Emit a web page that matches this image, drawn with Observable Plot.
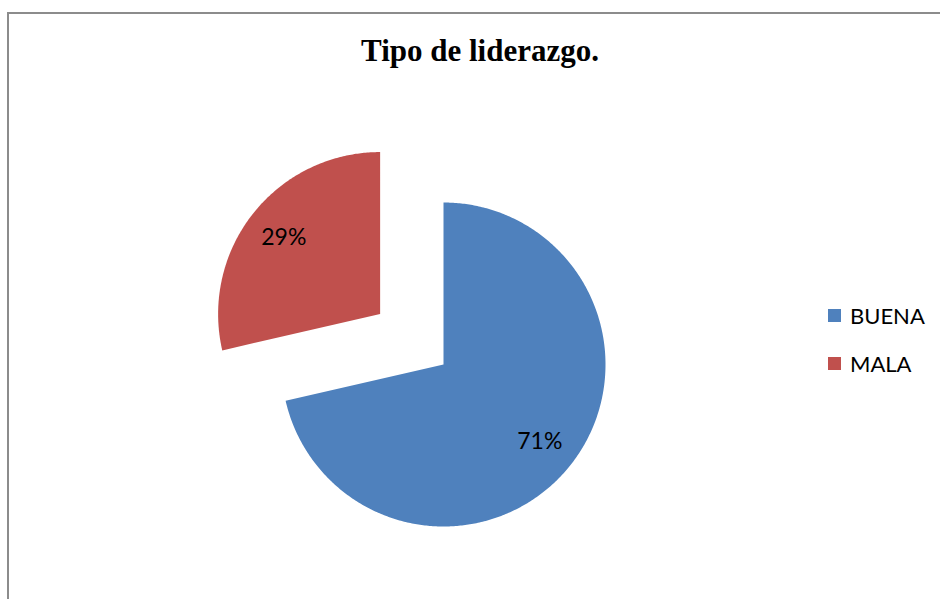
<!DOCTYPE html>
<html><head><meta charset="utf-8">
<script src="https://cdn.jsdelivr.net/npm/d3@7"></script>
<script src="https://cdn.jsdelivr.net/npm/@observablehq/plot@0.6"></script>
<style>
html,body{margin:0;padding:0;background:#fff;overflow:hidden;width:940px;height:599px}
#wrap{position:relative;width:940px;height:599px}
#border{position:absolute;left:7px;top:12px;width:1000px;height:1000px;border:2px solid #8c8c8c;box-sizing:border-box}
#title{position:absolute;left:0;width:960px;top:33px;text-align:center;font:bold 31px "Liberation Serif","Times New Roman",serif;color:#000}
#chart{position:absolute;left:0;top:0}
#legend{position:absolute;left:828px;top:0;font:22px Lato,"Open Sans",sans-serif;color:#000}
.item{position:absolute;left:0;display:flex;align-items:center;white-space:nowrap}
.sw{width:13px;height:13px;margin-right:9px}
</style>
</head><body>
<div id="wrap">
  <div id="border"></div>
  <div id="chart"></div>
  <div id="title">Tipo de liderazgo.</div>
  <div id="legend"></div>
</div>
<script>
const categories = ["BUENA", "MALA"];
const values = [71.4, 28.6];
const exploded = [0, 1];
const colors = ["#4F81BD", "#C0504D"];

// layout
const W = 940, H = 599;
const cx = 443, cy = 364, R = 162, explodeDist = 81, labelFrac = 0.76;

const total = d3.sum(values);
const fmt = d3.format(".0%");
const arcs = d3.pie().sort(null).value(d => d)(values);

const polyPoints = [];
const labelPts = [];
arcs.forEach((a, i) => {
  const mid = (a.startAngle + a.endAngle) / 2;
  const ox = exploded[i] * explodeDist * Math.sin(mid);
  const oy = -exploded[i] * explodeDist * Math.cos(mid);
  const key = categories[i];
  polyPoints.push({key, x: cx + ox, y: cy + oy});
  const n = Math.max(2, Math.ceil((a.endAngle - a.startAngle) / 0.01));
  for (let k = 0; k <= n; k++) {
    const t = a.startAngle + (a.endAngle - a.startAngle) * k / n;
    polyPoints.push({key, x: cx + ox + R * Math.sin(t), y: cy + oy - R * Math.cos(t)});
  }
  polyPoints.push({key, x: cx + ox, y: cy + oy});
  labelPts.push({key, label: fmt(values[i] / total), x: cx + ox + labelFrac * R * Math.sin(mid), y: cy + oy - labelFrac * R * Math.cos(mid)});
});

const plot = Plot.plot({
  width: W, height: H, margin: 0,
  x: {domain: [0, W], range: [0, W], axis: null},
  y: {domain: [0, H], range: [0, H], axis: null},
  color: {domain: categories, range: colors},
  marks: [
    Plot.line(polyPoints, {x: "x", y: "y", z: "key", fill: "key", stroke: "none", curve: "linear"}),
    Plot.text(labelPts, {x: "x", y: "y", text: "label", fill: "#000", fontSize: 23, fontFamily: "Lato, 'Open Sans', sans-serif"})
  ]
});
document.getElementById("chart").appendChild(plot);

const legend = document.getElementById("legend");
const legendY = [315, 363];
categories.forEach((c, i) => {
  const it = document.createElement("div");
  it.className = "item";
  it.style.top = (legendY[i] - 14) + "px";
  it.style.height = "28px";
  it.innerHTML = `<span class="sw" style="background:${colors[i]}"></span><span>${c}</span>`;
  legend.appendChild(it);
});
</script>
</body></html>
